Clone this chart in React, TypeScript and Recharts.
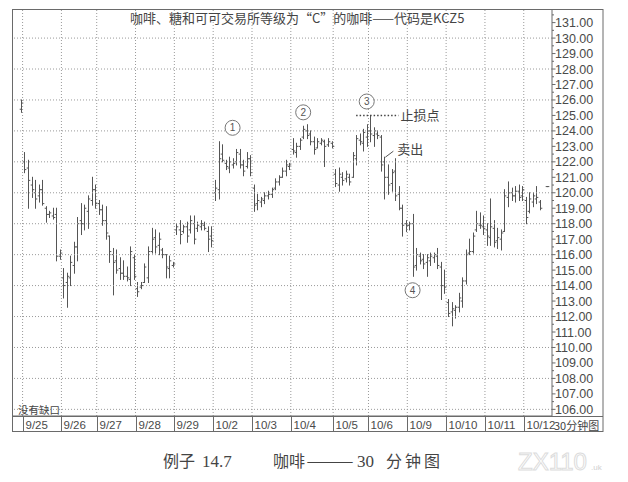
import React from 'react';
import { ComposedChart, Bar, XAxis, YAxis, ReferenceLine, ReferenceDot } from 'recharts';

type OHLC = [number, number, number, number] | null; // open, high, low, close

const dayLabels = ['', '9/25', '9/26', '9/27', '9/28', '9/29', '10/2', '10/3', '10/4', '10/5', '10/6', '10/9', '10/10', '10/11', '10/12'];

const bars0922: OHLC[] = [null, null, [125.4, 126.0, 125.2, 125.8]];
const bars0925: OHLC[] = [
  [122.0, 122.6, 121.3, 121.5], [121.6, 122.1, 119.0, 120.8], [120.5, 121.0, 119.7, 120.2],
  [120.0, 120.8, 119.0, 119.6], [119.8, 120.5, 119.4, 120.2], [120.2, 120.8, 119.2, 119.3],
  [119.0, 119.1, 118.1, 118.6], [118.6, 118.8, 118.4, 118.7], [118.5, 119.0, 118.3, 118.4],
  [118.6, 119.0, 115.6, 115.9], [115.9, 116.3, 115.7, 116.1],
];
const bars0926: OHLC[] = [
  [114.5, 115.1, 113.2, 114.0], [114.2, 114.8, 112.6, 114.6], [114.5, 115.9, 114.0, 115.5],
  [115.3, 116.8, 114.8, 116.5], [116.5, 118.4, 115.6, 118.0], [118.2, 119.3, 117.3, 118.0],
  [118.0, 119.2, 117.6, 119.0], [118.8, 119.8, 117.7, 119.6], [119.5, 121.0, 119.2, 120.2],
  [120.2, 120.5, 119.0, 119.3],
];
const bars0927: OHLC[] = [
  [119.3, 119.5, 118.6, 118.9], [118.9, 119.2, 117.9, 118.2], [118.2, 119.1, 117.0, 117.4],
  [117.2, 117.2, 115.5, 116.2], [116.0, 116.4, 113.4, 115.5], [115.6, 116.3, 114.8, 115.0],
  [115.1, 115.8, 114.4, 114.8], [114.8, 115.6, 114.4, 114.6], [114.6, 115.2, 114.3, 114.5],
  [114.4, 116.5, 114.0, 116.2], [115.8, 116.0, 114.4, 114.6],
];
const bars0928: OHLC[] = [
  [113.8, 114.2, 113.3, 113.6], [113.9, 114.2, 113.8, 114.0], [114.2, 115.4, 114.2, 115.2],
  [114.5, 116.5, 114.2, 116.2], [116.2, 117.7, 116.1, 117.0], [117.1, 117.6, 116.1, 116.5],
  [116.6, 117.4, 116.0, 117.0], [116.3, 116.4, 115.8, 116.0], [116.0, 116.0, 114.5, 115.2],
  [115.1, 115.9, 114.5, 115.6], [115.3, 115.5, 115.2, 115.4],
];
const bars0929: OHLC[] = [
  [117.6, 118.0, 117.3, 117.8], [117.6, 118.2, 116.7, 117.3], [117.5, 117.9, 117.4, 117.8],
  [117.8, 118.1, 116.8, 117.2], [117.6, 118.5, 117.4, 118.2], [118.0, 118.5, 116.7, 117.0],
  [117.7, 118.1, 117.5, 117.9], [117.8, 118.2, 117.6, 118.0], [117.9, 118.1, 117.6, 117.7],
  [117.5, 117.8, 116.2, 117.0], [117.2, 117.8, 116.5, 116.9],
];
const bars1002: OHLC[] = [
  [120.0, 120.8, 119.5, 120.3], [120.2, 123.3, 119.6, 122.2], [122.5, 123.1, 122.0, 122.1],
  [121.9, 122.1, 121.5, 121.7], [121.6, 122.3, 121.3, 122.0], [121.8, 122.2, 121.6, 121.9],
  [122.0, 122.8, 121.8, 122.6], [122.5, 122.8, 121.6, 121.8], [121.8, 122.1, 121.1, 121.4],
  [121.7, 122.6, 121.6, 122.2], [122.2, 122.4, 121.1, 121.3],
];
const bars1003: OHLC[] = [
  [120.3, 120.5, 118.8, 119.2], [119.3, 119.9, 118.9, 119.5], [119.4, 119.7, 119.1, 119.6],
  [119.5, 120.0, 119.3, 119.8], [119.8, 120.1, 119.6, 119.9], [119.9, 120.3, 119.7, 120.2],
  [120.3, 120.9, 120.2, 120.7], [120.7, 121.1, 120.5, 121.0], [121.0, 121.6, 121.0, 121.4],
  [121.4, 122.1, 121.1, 121.8], [121.7, 121.9, 121.5, 121.8],
];
const bars1004: OHLC[] = [
  [122.8, 123.5, 122.5, 122.7], [122.6, 123.2, 122.3, 123.0], [123.0, 123.5, 122.8, 123.4],
  [123.6, 124.3, 123.5, 124.1], [124.0, 124.4, 123.5, 123.7], [123.8, 124.0, 123.1, 123.3],
  [123.3, 123.6, 122.5, 122.8], [122.9, 123.5, 122.9, 123.3], [123.2, 123.5, 123.1, 123.4],
  [123.3, 123.4, 121.7, 123.0], [123.1, 123.5, 123.0, 123.3], [123.2, 123.3, 122.9, 123.0],
];
const bars1005: OHLC[] = [
  [121.2, 121.5, 120.4, 120.6], [120.5, 121.6, 120.1, 121.2], [121.0, 121.3, 120.5, 120.8],
  [120.9, 121.4, 120.7, 121.2], [121.0, 121.2, 120.5, 120.7], [121.0, 122.6, 121.0, 122.4],
  [122.2, 123.7, 121.8, 123.5], [123.4, 123.8, 123.1, 123.3], [123.2, 124.1, 122.7, 123.9],
  [123.6, 124.4, 123.0, 124.0],
];
const bars1006: OHLC[] = [
  [124.0, 125.0, 123.3, 123.8], [123.7, 124.2, 123.0, 124.0], [123.8, 124.0, 123.5, 123.7],
  [123.6, 123.7, 121.4, 121.8], [122.0, 122.3, 119.6, 121.0], [121.0, 121.8, 119.9, 120.5],
  [120.6, 121.5, 120.1, 121.3], [121.4, 122.2, 119.5, 119.8], [119.9, 120.4, 118.9, 119.0],
  [119.0, 119.2, 117.2, 117.9], [118.0, 118.2, 117.5, 117.9],
];
const bars1009: OHLC[] = [
  [117.9, 118.1, 117.6, 118.0], [118.0, 118.6, 114.6, 115.2], [115.3, 116.4, 115.0, 116.0],
  [115.9, 116.1, 115.4, 115.6], [115.7, 116.0, 115.1, 115.4], [115.5, 116.0, 114.6, 115.8],
  [115.6, 116.1, 115.3, 115.9], [115.8, 116.1, 115.5, 116.0], [115.9, 116.4, 115.1, 115.3],
  [115.2, 115.5, 113.1, 114.0], [114.0, 115.0, 113.5, 113.9],
];
const bars1010: OHLC[] = [
  [112.9, 113.1, 112.0, 112.2], [112.3, 112.9, 111.4, 112.5], [112.4, 112.7, 111.9, 112.6],
  [112.6, 113.5, 112.3, 113.2], [113.0, 114.5, 112.6, 114.3], [114.3, 116.3, 114.1, 116.0],
  [116.1, 117.0, 116.0, 116.2], [116.2, 117.4, 116.1, 117.2], [117.6, 118.8, 117.5, 118.0],
  [117.9, 118.7, 117.7, 117.9], [117.8, 118.5, 117.3, 117.7],
];
const bars1011: OHLC[] = [
  [117.6, 118.0, 116.6, 117.2], [117.1, 119.6, 116.6, 117.8], [117.7, 118.2, 116.5, 116.8],
  [116.9, 117.7, 116.4, 117.1], [117.0, 117.6, 116.3, 117.4], [117.5, 120.2, 117.5, 119.8],
  [119.7, 120.7, 119.1, 120.0], [120.0, 120.3, 119.5, 119.8], [119.8, 120.4, 119.4, 120.1],
  [120.1, 120.5, 119.5, 119.7], [119.8, 120.4, 119.5, 120.2],
];
const bars1012: OHLC[] = [
  [119.5, 119.7, 118.0, 118.4], [118.8, 120.0, 118.7, 119.6], [119.4, 120.0, 119.1, 119.8],
  [119.6, 120.4, 119.3, 119.7], [119.4, 119.5, 118.9, 119.0], null, [120.4, 120.4, 120.4, 120.4], null,
];

const days: OHLC[][] = [
  bars0922, bars0925, bars0926, bars0927, bars0928, bars0929, bars1002, bars1003,
  bars1004, bars1005, bars1006, bars1009, bars1010, bars1011, bars1012,
];

const priceLabels = [106, 107, 108, 109, 110, 111, 112, 113, 114, 115, 116, 117, 118, 119, 120, 121, 122, 123, 124, 125, 126, 127, 128, 129, 130, 131];
const gridPrices = [106, 108, 110, 112, 114, 116, 118, 120, 122, 124, 126, 128, 130];
const yDomain: [number, number] = [105.57, 131.88];

// build table
const data: any[] = [];
const dayStarts: number[] = [];
const labelByIdx: Record<number, string> = {};
{
  let idx = 0;
  days.forEach((bars, d) => {
    dayStarts.push(idx);
    labelByIdx[idx] = dayLabels[d];
    bars.forEach((b) => {
      if (b) data.push({ idx, open: b[0], high: b[1], low: b[2], close: b[3], range: [b[2], b[1]] });
      else data.push({ idx, range: null });
      idx++;
    });
  });
}
const boundaryStarts = dayStarts.slice(1);
const rightTicks: number[] = [];
priceLabels.forEach((p) => { rightTicks.push(p); rightTicks.push(p + 0.5); });
const leftTicks: number[] = [];
priceLabels.forEach((p) => { [0, 0.25, 0.5, 0.75].forEach((f) => leftTicks.push(p + f)); });

const INK = '#4a4a4a';
const FRAME = '#6a6a6a';
const GRID = '#9a9a9a';
const NUMFONT = '"Liberation Sans", Arial, sans-serif';
const CJK = '"Noto Sans CJK SC", "Noto Sans", sans-serif';
const SERIF = '"Liberation Serif", serif';

const OhlcShape = (props: any) => {
  const { x, y, width, height, payload } = props;
  if (!payload || payload.high == null) return null;
  const cx = Math.round(x + width / 2) + 0.5;
  const top = Math.min(y, y + height);
  const bot = Math.max(y, y + height);
  const span = payload.high - payload.low;
  const py = (v: number) => (span > 0 ? top + ((payload.high - v) / span) * (bot - top) : top);
  return (
    <g stroke="#555" strokeWidth={1}>
      <line x1={cx} x2={cx} y1={top - 0.5} y2={bot + 0.5} />
      <line x1={cx - 1.8} x2={cx} y1={py(payload.open)} y2={py(payload.open)} />
      <line x1={cx} x2={cx + 1.8} y1={py(payload.close)} y2={py(payload.close)} />
    </g>
  );
};

const DayTick = (props: any) => {
  const { x, y, payload } = props;
  const half = payload && payload.offset ? payload.offset : 1.76;
  const bx = Math.round(x - half) + 0.5;
  const label = labelByIdx[payload.value];
  return (
    <g>
      <line x1={bx} x2={bx} y1={y} y2={y + 16} stroke={FRAME} strokeWidth={1} />
      <text x={bx + 2} y={y + 12.5} fontSize={11.5} fontFamily={NUMFONT} fill={INK}>{label}</text>
    </g>
  );
};

const RightTick = (props: any) => {
  const { x, y, payload } = props;
  const v = payload.value as number;
  const major = Math.abs(v - Math.round(v)) < 1e-6;
  return (
    <g>
      <line x1={x} x2={x + (major ? 3.5 : 2)} y1={y} y2={y} stroke={FRAME} strokeWidth={1} />
      {major && (
        <text x={x + 3} y={y} dy="0.36em" fontSize={12.5} fontFamily={NUMFONT} fill={INK}>{v.toFixed(2)}</text>
      )}
    </g>
  );
};

const LeftTick = (props: any) => {
  const { x, y } = props;
  return <line x1={x} x2={x + 2.5} y1={y} y2={y} stroke="#777" strokeWidth={0.8} />;
};

const circled = (n: string) => (p: any) => (
  <g>
    <circle cx={p.cx} cy={p.cy} r={7.5} fill="#fff" stroke="#777" strokeWidth={1} />
    <text x={p.cx} y={p.cy} dy="0.36em" textAnchor="middle" fontSize={10} fontFamily={NUMFONT} fill="#555">{n}</text>
  </g>
);

const StopLabel = (p: any) => (
  <text x={p.cx + 2} y={p.cy} dy="0.36em" fontSize={13} fontFamily={CJK} fill="#444">止损点</text>
);

const SellLabel = (p: any) => (
  <g>
    <line x1={p.cx + 1} y1={p.cy} x2={p.cx + 9} y2={p.cy - 6} stroke="#555" strokeWidth={1} />
    <text x={p.cx + 13} y={p.cy - 8} dy="0.36em" fontSize={13} fontFamily={CJK} fill="#444">卖出</text>
  </g>
);

export default function App() {
  return (
    <div style={{ position: 'absolute', left: 0, top: 0, width: 628, height: 482, background: '#fff' }}>
      <ComposedChart
        width={628}
        height={482}
        data={data}
        margin={{ top: 9, right: 25, bottom: 50, left: 12 }}
        style={{ position: 'absolute', left: 0, top: 0 }}
      >
        <XAxis
          dataKey="idx"
          type="category"
          ticks={boundaryStarts}
          interval={0}
          height={16}
          tickLine={false}
          tickSize={0}
          tickMargin={0}
          axisLine={{ stroke: FRAME }}
          tick={(p: any) => <DayTick {...p} />}
        />
        <YAxis
          orientation="right"
          type="number"
          domain={yDomain}
          allowDataOverflow
          ticks={rightTicks}
          interval={0}
          width={51}
          tickLine={false}
          tickSize={0}
          tickMargin={0}
          axisLine={{ stroke: FRAME }}
          tick={(p: any) => <RightTick {...p} />}
        />
        <YAxis
          yAxisId="L"
          orientation="left"
          type="number"
          domain={yDomain}
          allowDataOverflow
          ticks={leftTicks}
          interval={0}
          width={0}
          tickLine={false}
          tickSize={0}
          tickMargin={0}
          axisLine={false}
          tick={(p: any) => <LeftTick {...p} />}
        />
        {gridPrices.map((g) => (
          <ReferenceLine key={'h' + g} y={g} stroke={GRID} strokeDasharray="1 2" strokeWidth={1} />
        ))}
        {boundaryStarts.map((s) => (
          <ReferenceLine key={'v' + s} x={s} position="start" stroke={GRID} strokeDasharray="1 2" strokeWidth={1} />
        ))}
        <Bar dataKey="range" shape={OhlcShape} isAnimationActive={false} />
        <ReferenceLine
          segment={[{ x: 97, y: 125.0 }, { x: 109, y: 125.0 }]}
          stroke="#444"
          strokeWidth={1.5}
          strokeDasharray="1.5 2"
        />
        <ReferenceDot x={109} y={125.0} r={0} shape={StopLabel} />
        <ReferenceDot x={105} y={122.3} r={0} shape={SellLabel} />
        <ReferenceDot x={62} y={124.2} r={7.5} shape={circled('1')} />
        <ReferenceDot x={82} y={125.2} r={7.5} shape={circled('2')} />
        <ReferenceDot x={100} y={125.9} r={7.5} shape={circled('3')} />
        <ReferenceDot x={113} y={113.7} r={7.5} shape={circled('4')} />
      </ComposedChart>
      <svg width={628} height={482} style={{ position: 'absolute', left: 0, top: 0, pointerEvents: 'none' }}>
        <rect x={12.5} y={9.5} width={590.5} height={422} fill="none" stroke={FRAME} strokeWidth={1} />
        <line x1={12} x2={603} y1={416.5} y2={416.5} stroke={FRAME} strokeWidth={1} />
        <text x={130} y={23} fontSize={13} fontFamily={CJK} fill="#444">咖啡、糖和可可交易所等级为“C”的咖啡——代码是KCZ5</text>
        <text x={18} y={414} fontSize={10.5} fontFamily={CJK} fill="#444">没有缺口</text>
        <text x={554} y={429.5} fontSize={11} fontFamily={CJK} fill="#444">30分钟图</text>
        <g fontFamily={CJK} fill="#444" fontSize={16}>
          <text x={163} y={467}>例子</text>
          <text x={202} y={467} fontFamily={SERIF} fontSize={17}>14.7</text>
          <text x={273} y={467}>咖啡</text>
          <text x={306} y={467} textLength={48} lengthAdjust="spacingAndGlyphs">——</text>
          <text x={357} y={467} fontFamily={SERIF} fontSize={17}>30</text>
          <text x={386} y={467} letterSpacing={3}>分钟图</text>
        </g>
        <text x={518} y={470} fontSize={24} fontFamily={NUMFONT} fill="none" stroke="#dcdcdc" strokeWidth={1}>ZX110</text>
        <text x={591} y={470} fontSize={8} fontFamily={NUMFONT} fill="#d0d0d0">.uk</text>
      </svg>
    </div>
  );
}
